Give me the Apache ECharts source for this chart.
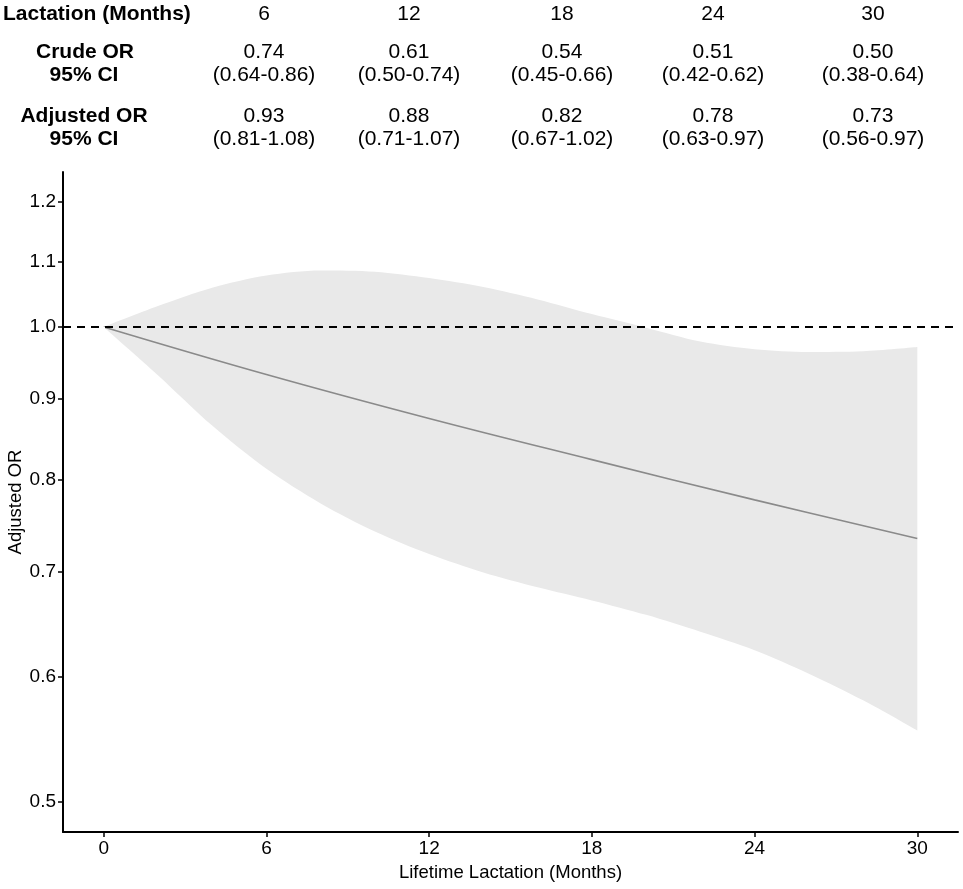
<!DOCTYPE html>
<html>
<head>
<meta charset="utf-8">
<script src="https://cdn.jsdelivr.net/npm/echarts@6/dist/echarts.min.js"></script>
<style>
html,body{margin:0;padding:0;background:#fff;}
#chart{width:963px;height:889px;}
</style>
</head>
<body>
<div id="chart"></div>
<script>
// ---- table data ----
const tableMonths = ['6', '12', '18', '24', '30'];
const crudeOR = ['0.74', '0.61', '0.54', '0.51', '0.50'];
const crudeCI = ['(0.64-0.86)', '(0.50-0.74)', '(0.45-0.66)', '(0.42-0.62)', '(0.38-0.64)'];
const adjOR = ['0.93', '0.88', '0.82', '0.78', '0.73'];
const adjCI = ['(0.81-1.08)', '(0.71-1.07)', '(0.67-1.02)', '(0.63-0.97)', '(0.56-0.97)'];

// ---- curve data (months, adjusted OR) ----
const bandMonths = [0, 2, 4, 6, 8, 10, 12, 14, 16, 18, 20, 22, 24, 26, 28, 30];
const bandUpper = [1.000, 1.031, 1.059, 1.078, 1.086, 1.084, 1.074, 1.060, 1.041, 1.019, 0.999, 0.979, 0.968, 0.964, 0.965, 0.971];
const bandLower = [1.000, 0.932, 0.866, 0.813, 0.773, 0.742, 0.718, 0.699, 0.684, 0.671, 0.657, 0.641, 0.624, 0.603, 0.580, 0.555];
const lineMonths = [0, 6, 12, 18, 24, 30];
const lineOR = [1.000, 0.933, 0.875, 0.824, 0.777, 0.7345];
const refOR = 1.0;

// ---- axis ticks ----
const xTicks = [0, 6, 12, 18, 24, 30];
const yTicks = [0.5, 0.6, 0.7, 0.8, 0.9, 1.0, 1.1, 1.2];

const L = Math.log;
const yPad = 0.05 * (L(1.2) - L(0.5));
const yMin = L(0.5) - yPad, yMax = L(1.2) + yPad;
const FONT = '"Liberation Sans", Arial, Helvetica, sans-serif';

const colX = [264, 409, 562, 713, 873];
const graphics = [];
function txt(text, x, y, bold, align) {
  graphics.push({
    type: 'text', x: x, y: y, silent: true,
    style: {
      text: text, fill: '#000',
      font: (bold ? 'bold ' : '') + '21px ' + FONT,
      align: align || 'center', verticalAlign: 'middle',
      textAlign: align || 'center', textVerticalAlign: 'middle'
    }
  });
}
txt('Lactation (Months)', 3, 14, true, 'left');
txt('Crude OR', 85, 52, true);
txt('95% CI', 84, 75, true);
txt('Adjusted OR', 84, 116, true);
txt('95% CI', 84, 139, true);
tableMonths.forEach((t, i) => {
  txt(t, colX[i], 14, false);
  txt(crudeOR[i], colX[i], 52, false);
  txt(crudeCI[i], colX[i], 75, false);
  txt(adjOR[i], colX[i], 116, false);
  txt(adjCI[i], colX[i], 139, false);
});

const nB = bandMonths.length;
const chart = echarts.init(document.getElementById('chart'), null, {renderer: 'canvas'});
chart.setOption({
  backgroundColor: '#fff',
  animation: false,
  textStyle: {fontFamily: FONT},
  graphic: graphics,
  grid: {left: 63, right: 5, top: 172, bottom: 57, containLabel: false, outerBoundsMode: 'none'},
  xAxis: {
    type: 'value', min: -1.5, max: 31.5, z: 10,
    name: 'Lifetime Lactation (Months)', nameLocation: 'middle', nameGap: 31, nameMoveOverlap: false,
    nameTextStyle: {fontSize: 18.5, color: '#000', fontFamily: FONT},
    axisLine: {show: true, onZero: false, lineStyle: {color: '#000', width: 2}},
    axisTick: {show: true, length: 5, lineStyle: {color: '#000', width: 1.5}, customValues: xTicks},
    axisLabel: {fontSize: 19, color: '#000', margin: 7, fontFamily: FONT, customValues: xTicks, showMinLabel: true, showMaxLabel: true},
    splitLine: {show: false}
  },
  yAxis: {
    type: 'value', min: yMin, max: yMax, z: 10,
    name: 'Adjusted OR', nameLocation: 'middle', nameGap: 38, nameRotate: 90, nameMoveOverlap: false,
    nameTextStyle: {fontSize: 18.5, color: '#000', fontFamily: FONT},
    axisLine: {show: true, onZero: false, lineStyle: {color: '#000', width: 2}},
    axisTick: {show: true, length: 5, lineStyle: {color: '#000', width: 1.5}, customValues: yTicks.map(L)},
    axisLabel: {fontSize: 19, color: '#000', margin: 7, fontFamily: FONT,
      customValues: yTicks.map(L), formatter: v => Math.exp(v).toFixed(1)},
    splitLine: {show: false}
  },
  series: [
    {
      name: 'upper', type: 'line', smooth: 0.3, symbol: 'none', silent: true,
      data: bandMonths.map((m, i) => [m, L(bandUpper[i])]),
      lineStyle: {width: 0, opacity: 0},
      areaStyle: {color: '#e9e9e9', opacity: 1, origin: 'start'},
      z: 1
    },
    {
      name: 'lower', type: 'line', smooth: 0.3, symbol: 'none', silent: true,
      data: bandMonths.map((m, i) => [m, L(bandLower[i])]),
      lineStyle: {width: 0, opacity: 0},
      areaStyle: {color: '#ffffff', opacity: 1, origin: 'start'},
      z: 2,
      markLine: {
        silent: true, symbol: 'none', label: {show: false},
        lineStyle: {color: '#ffffff', width: 2, type: 'solid', opacity: 1},
        data: [
          [{coord: [bandMonths[0], yMin]}, {coord: [bandMonths[0], L(bandLower[0])]}],
          [{coord: [bandMonths[nB - 1], yMin]}, {coord: [bandMonths[nB - 1], L(bandLower[nB - 1])]}]
        ]
      }
    },
    {
      name: 'Adjusted OR', type: 'line', smooth: 0.4, symbol: 'none', silent: true,
      data: lineMonths.map((m, i) => [m, L(lineOR[i])]),
      lineStyle: {color: '#8a8a8a', width: 1.6},
      z: 3,
      markLine: {
        silent: true, symbol: 'none', label: {show: false},
        lineStyle: {color: '#000', width: 1.8, type: [8, 6]},
        data: [{yAxis: L(refOR)}]
      }
    }
  ]
});
</script>
</body>
</html>
